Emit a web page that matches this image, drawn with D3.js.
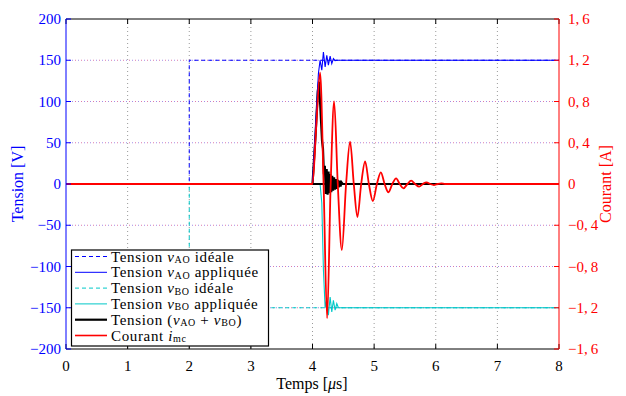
<!DOCTYPE html>
<html><head><meta charset="utf-8">
<script src="https://cdn.jsdelivr.net/npm/d3@7"></script>
<style>body{margin:0;background:#fff}svg{display:block}text{font-family:"Liberation Serif","Times New Roman",serif}</style>
</head><body><svg id="c" width="626" height="396"></svg>
<script>
// ---- data ----
const xTicks = [0,1,2,3,4,5,6,7,8];
const vTicks = [-200,-150,-100,-50,0,50,100,150,200];
const iTicks = [-1.6,-1.2,-0.8,-0.4,0,0.4,0.8,1.2,1.6];
const iTickLabels = ["\u22121,\u20096","\u22121,\u20092","\u22120,\u20098","\u22120,\u20094","0","0,\u20094","0,\u20098","1,\u20092","1,\u20096"];

const tIdeal = [0, 2, 2, 8];
const vAOIdeal = [0, 0, 150, 150];
const vBOIdeal = [0, 0, -150, -150];

const tAO = [0, 4.0, 4.05, 4.096, 4.123, 4.151, 4.177, 4.205, 4.232, 4.258, 4.286, 4.313, 4.339, 4.367, 4.4, 8];
const vAO = [0, 0, 70, 134, 150, 138, 160, 142, 156, 144, 155, 146, 152, 149.5, 150, 150];

const tBO = [0, 4.123, 4.151, 4.177, 4.205, 4.232, 4.258, 4.286, 4.313, 4.339, 4.367, 4.394, 4.42, 8];
const vBO = [0, 0, -23, -104, -150, -138, -159, -137, -155, -141, -153, -145, -150, -150];

const tSum = [0, 4.0, 4.05, 4.085, 4.105, 4.125, 4.155, 4.17, 4.185, 4.2, 4.215, 4.23, 4.245, 4.26, 4.275, 4.29, 4.305, 4.32, 4.335, 4.35, 4.365, 4.38, 4.395, 4.41, 4.425, 4.44, 4.455, 4.47, 4.49, 8];
const vSum = [0, 0, 60, 112, 124, 96, 52, 43, 12, 22, -12, 18, -13, 15, -11, 12, -10, 10, -8, 8, -7, 6, -6, 5, -4, 4, -3, 2, 0, 0];

const tCur = [0, 4.0, 4.06, 4.123, 4.18, 4.237, 4.295, 4.351, 4.41, 4.476, 4.545, 4.61, 4.67, 4.729, 4.79, 4.854, 4.915, 4.979, 5.045, 5.109, 5.17, 5.232, 5.295, 5.357, 5.415, 5.476, 5.54, 5.601, 5.665, 5.731, 5.79, 5.85, 5.91, 5.97, 6.03, 6.09, 6.15, 8];
const iCur = [0, 0, 0.55, 1.08, 0, -1.30, 0, 0.80, 0, -0.64, 0, 0.41, 0, -0.32, 0, 0.22, 0, -0.165, 0, 0.113, 0, -0.08, 0, 0.055, 0, -0.042, 0, 0.032, 0, -0.026, 0, 0.016, 0, -0.01, 0, 0.006, 0, 0];

const legendItems = [
  {color:"#0000ff", dash:"4,3", w:1, parts:[["Tension "],["v","i"],["AO","s"],[" idéale"]]},
  {color:"#0000ff", dash:null, w:1, parts:[["Tension "],["v","i"],["AO","s"],[" appliquée"]]},
  {color:"#00c8c8", dash:"4,3", w:1, parts:[["Tension "],["v","i"],["BO","s"],[" idéale"]]},
  {color:"#00c8c8", dash:null, w:1, parts:[["Tension "],["v","i"],["BO","s"],[" appliquée"]]},
  {color:"#000000", dash:null, w:2.2, parts:[["Tension ("],["v","i"],["AO","s"],[" + "],["v","i"],["BO","s"],[")"]]},
  {color:"#ff0000", dash:null, w:1.6, parts:[["Courant "],["i","i"],["mc","s"]]}
];

// ---- layout ----
const L = 66, R = 559, T = 19, B = 349;
const svg = d3.select("#c");
const x = d3.scaleLinear([0,8],[L,R]);
const yV = d3.scaleLinear([-200,200],[B,T]);
const yI = d3.scaleLinear([-1.6,1.6],[B,T]);

// grid
const g = svg.append("g");
xTicks.filter(d=>d>0&&d<8).forEach(d=>{
  g.append("line").attr("x1",x(d)).attr("x2",x(d)).attr("y1",T).attr("y2",B)
    .attr("stroke","#9a9a9a").attr("stroke-width",1).attr("stroke-dasharray","1,3");
});
vTicks.filter(d=>d>-200&&d<200).forEach(d=>{
  g.append("line").attr("x1",L).attr("x2",R).attr("y1",yV(d)).attr("y2",yV(d))
    .attr("stroke","#a08ce8").attr("stroke-width",1).attr("stroke-dasharray","1,5");
  g.append("line").attr("x1",L+3).attr("x2",R).attr("y1",yV(d)).attr("y2",yV(d))
    .attr("stroke","#e07aa8").attr("stroke-width",1).attr("stroke-dasharray","1,5");
});

// lines
const lineV = (ts, vs, curve) => d3.line().x((d,i)=>x(ts[i])).y((d,i)=>yV(vs[i])).curve(curve||d3.curveLinear)(vs);
const lineI = (ts, vs, curve) => d3.line().x((d,i)=>x(ts[i])).y((d,i)=>yI(vs[i])).curve(curve||d3.curveLinear)(vs);
const plot = svg.append("g").attr("fill","none");
plot.append("path").attr("d",lineV(tIdeal,vAOIdeal)).attr("stroke","#0000ff").attr("stroke-width",1).attr("stroke-dasharray","4,3");
plot.append("path").attr("d",lineV(tIdeal,vBOIdeal)).attr("stroke","#00c8c8").attr("stroke-width",1).attr("stroke-dasharray","4,3");
plot.append("path").attr("d",lineV(tSum,vSum)).attr("stroke","#000").attr("stroke-width",2.2);
plot.append("path").attr("d",lineV(tAO,vAO)).attr("stroke","#0000ff").attr("stroke-width",1.1);
plot.append("path").attr("d",lineV(tBO,vBO)).attr("stroke","#00c8c8").attr("stroke-width",1.1);
plot.append("path").attr("d",lineV([0,8],[0,0])).attr("stroke","#000").attr("stroke-width",2.2);
plot.append("path").attr("d",lineI(tCur,iCur,d3.curveMonotoneX)).attr("stroke","#ff0000").attr("stroke-width",1.8);

// frame & axes
svg.append("line").attr("x1",L).attr("x2",R).attr("y1",T).attr("y2",T).attr("stroke","#000");
svg.append("line").attr("x1",L).attr("x2",R).attr("y1",B).attr("y2",B).attr("stroke","#000");
const ax = svg.append("g");
xTicks.forEach(d=>{
  ax.append("line").attr("x1",x(d)).attr("x2",x(d)).attr("y1",B).attr("y2",B-5).attr("stroke","#000");
  ax.append("line").attr("x1",x(d)).attr("x2",x(d)).attr("y1",T).attr("y2",T+5).attr("stroke","#000");
  ax.append("text").attr("x",x(d)).attr("y",B+22).attr("text-anchor","middle").attr("font-size",15).attr("fill","#000").text(d);
});
svg.append("line").attr("x1",L).attr("x2",L).attr("y1",T).attr("y2",B).attr("stroke","#0000ff");
vTicks.forEach(d=>{
  ax.append("line").attr("x1",L).attr("x2",L+5).attr("y1",yV(d)).attr("y2",yV(d)).attr("stroke","#0000ff");
  ax.append("text").attr("x",L-5).attr("y",yV(d)+5).attr("text-anchor","end").attr("font-size",15).attr("fill","#0000ff")
    .text(d<0?"\u2212"+(-d):d);
});
svg.append("line").attr("x1",R).attr("x2",R).attr("y1",T).attr("y2",B).attr("stroke","#ff0000");
iTicks.forEach((d,i)=>{
  ax.append("line").attr("x1",R).attr("x2",R-5).attr("y1",yI(d)).attr("y2",yI(d)).attr("stroke","#ff0000");
  ax.append("text").attr("x",R+9).attr("y",yI(d)+5).attr("text-anchor","start").attr("font-size",15).attr("fill","#ff0000")
    .text(iTickLabels[i]);
});

// axis titles
svg.append("text").attr("transform","translate(23,184) rotate(-90)").attr("text-anchor","middle")
  .attr("font-size",16).attr("fill","#0000ff").text("Tension [V]");
svg.append("text").attr("transform","translate(611,184) rotate(-90)").attr("text-anchor","middle")
  .attr("font-size",16).attr("fill","#ff0000").text("Courant [A]");
const xt = svg.append("text").attr("x",312).attr("y",389).attr("text-anchor","middle").attr("font-size",16).attr("fill","#000");
xt.append("tspan").text("Temps [");
xt.append("tspan").attr("font-style","italic").text("\u03bc");
xt.append("tspan").text("s]");

// legend
const lg = svg.append("g");
lg.append("rect").attr("x",71.5).attr("y",250).attr("width",197).attr("height",96)
  .attr("fill","#fff").attr("stroke","#000").attr("stroke-width",1.2);
legendItems.forEach((it,i)=>{
  const cy = 256.5 + i*15.8;
  const ln = lg.append("line").attr("x1",75).attr("x2",107).attr("y1",cy).attr("y2",cy)
    .attr("stroke",it.color).attr("stroke-width",it.w);
  if (it.dash) ln.attr("stroke-dasharray",it.dash);
  const t = lg.append("text").attr("x",111).attr("y",cy+5).attr("font-size",15)
    .attr("letter-spacing","0.65px").attr("fill","#000");
  let sub = false;
  it.parts.forEach(p=>{
    const s = t.append("tspan").text(p[0]);
    if (p[1]==="i") { s.attr("font-style","italic"); }
    if (p[1]==="s") { s.attr("font-size",10).attr("dy",1.5); sub = true; }
    else if (sub) { s.attr("dy",-1.5); sub = false; }
  });
});
</script></body></html>
